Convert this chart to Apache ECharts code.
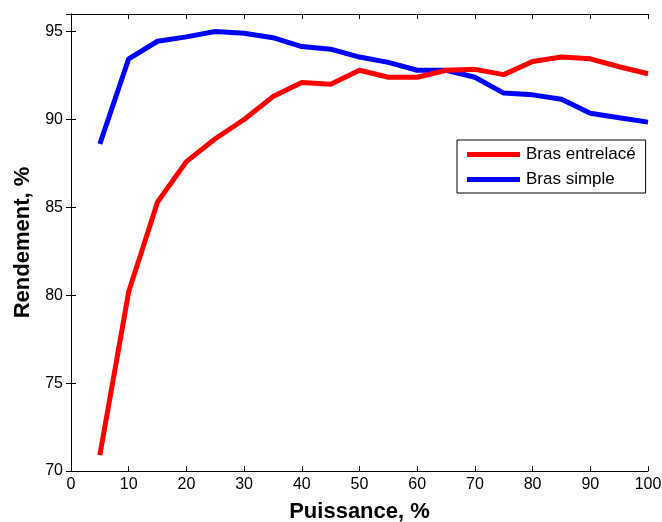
<!DOCTYPE html>
<html><head><meta charset="utf-8">
<script src="https://cdn.jsdelivr.net/npm/echarts@6/dist/echarts.min.js"></script>
<style>html,body{margin:0;padding:0;background:#fff}#c{width:662px;height:522px}</style>
</head><body><div id="c"></div>
<script>
const puissance = [5,10,15,20,25,30,35,40,45,50,55,60,65,70,75,80,85,90,95,100];
const brasEntrelace = [70.9,80.2,85.3,87.6,88.9,90.0,91.3,92.1,92.0,92.8,92.4,92.4,92.8,92.85,92.55,93.3,93.55,93.45,93.0,92.6];
const brasSimple = [88.6,93.45,94.45,94.7,95.0,94.9,94.65,94.15,94.0,93.55,93.25,92.8,92.8,92.4,91.5,91.4,91.15,90.35,90.1,89.85];
const seriesNames = ['Bras entrelacé','Bras simple'];

const font = 'Liberation Sans, Arial, sans-serif';
const chart = echarts.init(document.getElementById('c'));
const axisLine = {show:true, lineStyle:{color:'#000', width:1}};
const mk = (d)=>d.map((v,i)=>[puissance[i], v]);
chart.setOption({
  animation:false,
  grid:{left:71, right:14, top:14, bottom:51, containLabel:false, outerBoundsMode:'none'},
  legend:{
    orient:'vertical', left:457, top:140, itemWidth:53, itemHeight:5, itemGap:8,
    padding:[6,10,5,10], borderColor:'#000', borderWidth:1, backgroundColor:'#fff',
    textStyle:{fontFamily:font, fontSize:17, color:'#000', padding:[0,0,0,1]},
    icon:'rect',
    data:seriesNames
  },
  xAxis:[{
    type:'value', min:0, max:100, interval:10,
    name:'Puissance, %', nameLocation:'middle', nameGap:30,
    nameTextStyle:{fontFamily:font, fontSize:22, fontWeight:'bold', color:'#000'},
    axisLine, axisTick:{show:true, inside:true, length:5, lineStyle:{color:'#000'}},
    axisLabel:{fontFamily:font, fontSize:16, color:'#000', margin:6},
    splitLine:{show:false}
  },{
    type:'value', min:0, max:100, interval:10, position:'top',
    axisLine, axisTick:{show:true, inside:true, length:5, lineStyle:{color:'#000'}},
    axisLabel:{show:false}, splitLine:{show:false}
  }],
  yAxis:[{
    type:'value', min:70, max:96, interval:5,
    name:'Rendement, %', nameLocation:'middle', nameGap:33, nameRotate:90,
    nameTextStyle:{fontFamily:font, fontSize:22, fontWeight:'bold', color:'#000'},
    axisLine, axisTick:{show:true, inside:true, length:5, lineStyle:{color:'#000'}},
    axisLabel:{fontFamily:font, fontSize:16, color:'#000', margin:8, showMaxLabel:false},
    splitLine:{show:false}
  },{
    type:'value', min:70, max:96, interval:5, position:'right',
    axisLine, axisTick:{show:true, inside:true, length:5, lineStyle:{color:'#000'}},
    axisLabel:{show:false}, splitLine:{show:false}
  }],
  series:[
    {name:seriesNames[0], type:'line', data:mk(brasEntrelace), showSymbol:false, symbol:'none',
     lineStyle:{color:'#ff0000', width:5}, itemStyle:{color:'#ff0000'}, z:3},
    {name:seriesNames[1], type:'line', data:mk(brasSimple), showSymbol:false, symbol:'none',
     lineStyle:{color:'#0000ff', width:5}, itemStyle:{color:'#0000ff'}, z:2}
  ]
});
</script></body></html>
